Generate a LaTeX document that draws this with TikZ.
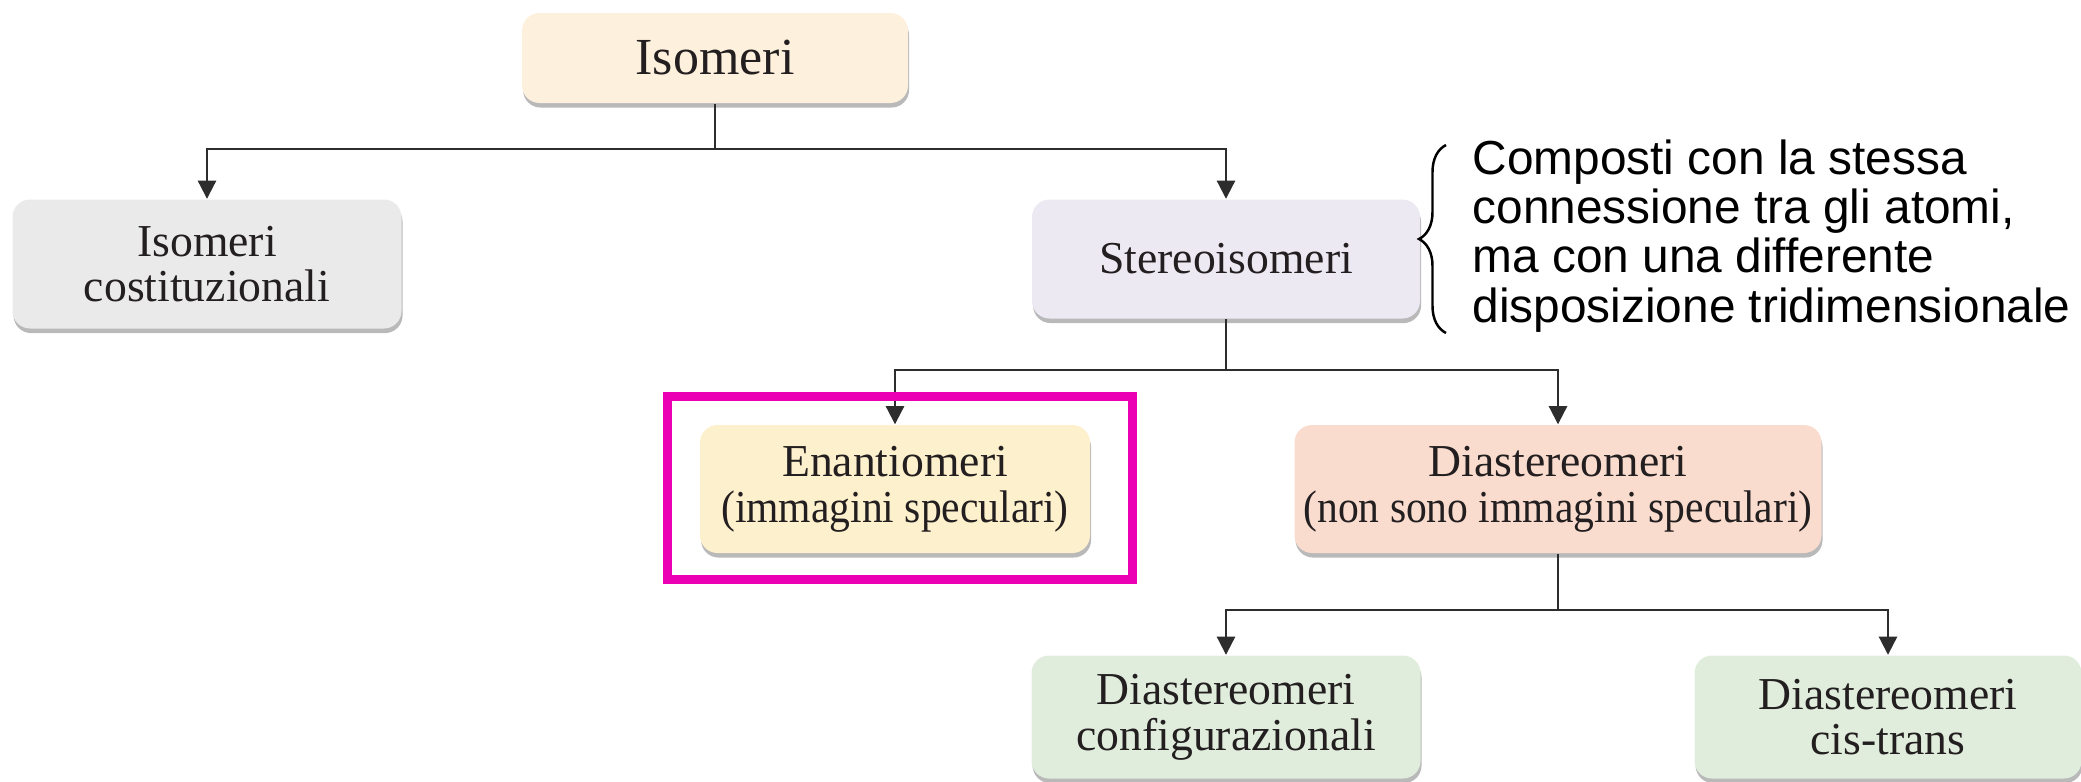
\documentclass[tikz,border=0pt]{standalone}
\usepackage{fontspec}
\setmainfont{Liberation Serif}
\newfontfamily\notefont{Liberation Sans}
\usetikzlibrary{arrows.meta,shadows,decorations.pathreplacing}

\definecolor{isofill}{RGB}{253,240,220}
\definecolor{costfill}{RGB}{234,234,234}
\definecolor{stereofill}{RGB}{236,233,242}
\definecolor{enanfill}{RGB}{253,240,204}
\definecolor{diastfill}{RGB}{249,220,206}
\definecolor{subfill}{RGB}{224,237,220}
\definecolor{inktext}{RGB}{35,31,32}
\definecolor{linkgray}{RGB}{45,45,45}
\definecolor{hilite}{RGB}{236,0,180}

% narrower second line for the wide boxes
\newcommand{\narrowline}[1]{\scalebox{0.91}[1]{#1}}

\begin{document}
\begin{tikzpicture}[
  box/.style={rounded corners=5pt, inner sep=0pt, align=center, text=inktext,
    font=\fontsize{13}{13}\selectfont,
    drop shadow={shadow xshift=0.3pt, shadow yshift=-1.3pt, fill=black!50, opacity=0.55}},
  link/.style={draw=linkgray, line width=0.6pt},
  arr/.style={link, -{Triangle[width=5.2pt,length=5.2pt]}},
  note/.style={align=left, inner sep=0pt, font=\notefont\fontsize{13.6}{14}\selectfont}
]
  \useasboundingbox (0,0) rectangle (20.81,7.81);

  % Isomer nodes
  \node[box, fill=isofill, minimum width=3.86cm, minimum height=0.90cm,
        font=\fontsize{14.8}{15}\selectfont] (iso) at (7.15,7.23) {Isomeri};
  \node[box, fill=costfill, minimum width=3.89cm, minimum height=1.29cm] (cost) at (2.07,5.17) {Isomeri\\costituzionali};
  \node[box, fill=stereofill, minimum width=3.88cm, minimum height=1.19cm] (stereo) at (12.26,5.22) {Stereoisomeri};
  \node[box, fill=enanfill, minimum width=3.90cm, minimum height=1.28cm] (enan) at (8.95,2.92) {Enantiomeri\\\narrowline{(immagini speculari)}};
  \node[box, fill=diastfill, minimum width=5.27cm, minimum height=1.28cm] (diast) at (15.58,2.92) {Diastereomeri\\\narrowline{(non sono immagini speculari)}};
  \node[box, fill=subfill, minimum width=3.89cm, minimum height=1.23cm] (config) at (12.26,0.64) {Diastereomeri\\configurazionali};
  \node[box, fill=subfill, minimum width=3.87cm, minimum height=1.23cm] (cistrans) at (18.88,0.64) {Diastereomeri\\cis-trans};

  % Junctions
  \coordinate (j1) at (7.15,6.32);
  \coordinate (j2) at (12.26,4.11);
  \coordinate (j3) at (15.58,1.71);

  % Edges
  \draw[link] (iso) -- (j1);
  \draw[arr] (j1) -| (cost);
  \draw[arr] (j1) -| (stereo);
  \draw[link] (stereo) -- (j2);
  \draw[arr] (j2) -| (enan);
  \draw[arr] (j2) -| (diast);
  \draw[link] (diast) -- (j3);
  \draw[arr] (j3) -| (config);
  \draw[arr] (j3) -| (cistrans);

  % Note with brace
  \node[note, anchor=west] (txt) at (14.72,5.45) {Composti con la stessa\\connessione tra gli atomi,\\ma con una differente\\disposizione tridimensionale};
  \coordinate (br1) at (14.46,4.48);
  \coordinate (br2) at (14.46,6.36);
  \draw[line width=0.7pt, decorate, decoration={brace, amplitude=0.27cm}] (br1) -- (br2);

  % Highlight
  \draw[hilite, line width=0.09cm] (6.67,3.85) rectangle (11.32,2.02);
\end{tikzpicture}
\end{document}
